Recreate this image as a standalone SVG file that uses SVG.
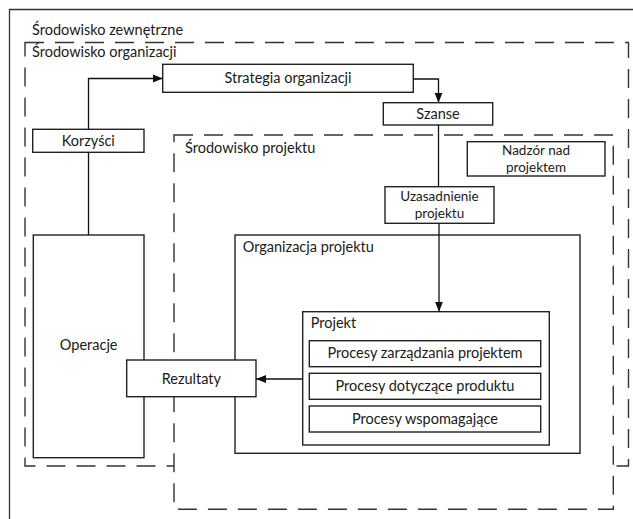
<svg xmlns="http://www.w3.org/2000/svg" width="633" height="519" viewBox="0 0 633 519">
<defs>
<marker id="arr" markerUnits="userSpaceOnUse" markerWidth="10" markerHeight="10" viewBox="0 0 10 10" refX="10" refY="5" orient="auto">
<path d="M0,1 L10,5 L0,9 Z" fill="#111"/>
</marker>
<style>
text{font-family:Lato,"Liberation Sans",sans-serif;font-size:14.5px;fill:#1a1a1a}
.c{text-anchor:middle}
.t2{font-size:13.5px}
.box{fill:#fff;stroke:#222;stroke-width:1.4}
.dash{stroke:#333;stroke-width:1.4;stroke-dasharray:19 11}
.solid{fill:none;stroke:#333;stroke-width:1.3}
.conn{fill:none;stroke:#111;stroke-width:1.3}
</style>
</defs>
<rect width="633" height="519" fill="#fff"/>
<path class="solid" d="M9.5,519 V9.5 H633"/>
<g id="env-external"><text x="32" y="35">Środowisko zewnętrzne</text></g>
<g id="env-organization">
<rect class="dash" x="25" y="42.5" width="603.5" height="423.5" fill="none"/>
<text x="32" y="57">Środowisko organizacji</text>
</g>
<g id="env-project">
<rect class="dash" x="174" y="135" width="439.3" height="374.3" fill="#fff"/>
<text x="185" y="153">Środowisko projektu</text>
</g>
<g id="strategia"><rect class="box" x="162.7" y="64.3" width="250.6" height="28"/><text class="c" x="288" y="83.3">Strategia organizacji</text></g>
<g id="szanse"><rect class="box" x="383.3" y="102.7" width="109.4" height="22.3"/><text class="c" x="438" y="118.8">Szanse</text></g>
<g id="korzysci"><rect class="box" x="32.7" y="129.3" width="111.3" height="23"/><text class="c" x="88.3" y="146">Korzyści</text></g>
<g id="nadzor"><rect class="box" x="467.3" y="141.7" width="137.7" height="34.3"/><text class="c t2" x="536" y="155.3">Nadzór nad</text><text class="c t2" x="536" y="171.6">projektem</text></g>
<g id="uzasadnienie"><rect class="box" x="385" y="186.7" width="109" height="36.6"/><text class="c t2" x="439.5" y="201.3">Uzasadnienie</text><text class="c t2" x="439.5" y="217.6">projektu</text></g>
<g id="operacje"><rect class="box" x="33.3" y="235" width="110.7" height="222.7"/><text class="c" x="88.7" y="350">Operacje</text></g>
<g id="organizacja-projektu"><rect class="box" x="235" y="235" width="345" height="218.3"/><text x="242.7" y="252">Organizacja projektu</text></g>
<g id="projekt"><rect class="box" x="302.7" y="311.7" width="246.6" height="133.3"/><text x="310.7" y="327.5">Projekt</text></g>
<g id="procesy-zarzadzania"><rect class="box" x="309.3" y="340.7" width="231.4" height="26"/><text class="c" x="425" y="358.3">Procesy zarządzania projektem</text></g>
<g id="procesy-produktu"><rect class="box" x="309.3" y="373.3" width="231.4" height="26"/><text class="c" x="425" y="391">Procesy dotyczące produktu</text></g>
<g id="procesy-wspomagajace"><rect class="box" x="309.3" y="406" width="231.4" height="26"/><text class="c" x="425" y="423.7">Procesy wspomagające</text></g>
<g id="rezultaty"><rect class="box" x="126.7" y="360" width="129.3" height="36.7"/><text class="c" x="191.3" y="383.5">Rezultaty</text></g>
<g id="connectors">
<path class="conn" d="M88.5,129.3 V78.5 H162.7" marker-end="url(#arr)"/>
<path class="conn" d="M88.5,152.3 V235"/>
<path class="conn" d="M413.3,79 H438.5 V102.7" marker-end="url(#arr)"/>
<path class="conn" d="M438.5,125 V186.7"/>
<path class="conn" d="M439,223.3 V311.7" marker-end="url(#arr)"/>
<path class="conn" d="M302.7,379 H256" marker-end="url(#arr)"/>
</g>
</svg>
